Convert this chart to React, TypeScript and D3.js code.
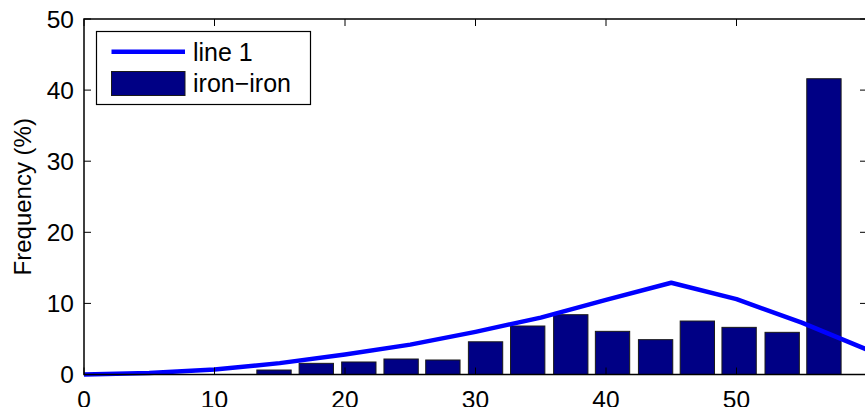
import React from 'react'
import * as d3 from 'd3'

// histogram bins (bin centre, percent)
const binCenters = [14.56, 17.8, 21.06, 24.3, 27.5, 30.77, 34.0, 37.3, 40.5, 43.8, 47.0, 50.2, 53.5, 56.7]
const binFreq = [0.63, 1.57, 1.76, 2.18, 2.04, 4.6, 6.82, 8.41, 6.07, 4.9, 7.52, 6.63, 5.93, 41.6]
const binWidth = 2.63

// "line 1" curve
const lineX = [0, 5, 10, 15, 20, 25, 30, 35, 40, 45, 50, 55, 60]
const lineY = [0, 0.2, 0.7, 1.6, 2.8, 4.2, 6.0, 8.0, 10.5, 12.9, 10.6, 7.3, 3.5]

const xTicks = [0, 10, 20, 30, 40, 50]
const yTicks = [0, 10, 20, 30, 40, 50]

const W = 865
const H = 407
const left = 84
const right = 867
const top = 19
const bottom = 374.5
const font = 'Liberation Sans, Arial, Helvetica, sans-serif'

const App = () => {
  const x = d3.scaleLinear().domain([0, 60]).range([left, right])
  const y = d3.scaleLinear().domain([0, 50]).range([bottom, top])

  const line = d3.line<number>()
    .x((d, i) => x(lineX[i]))
    .y(d => y(d))

  const tk = 7

  return (
    <svg width={W} height={H} style={{ position: 'absolute', left: 0, top: 0 }} fontFamily={font}>
      <rect width={W} height={H} fill="#fff" />

      {binCenters.map((c, i) => (
        <rect key={i}
          x={x(c - binWidth / 2)}
          y={y(binFreq[i])}
          width={x(c + binWidth / 2) - x(c - binWidth / 2)}
          height={y(0) - y(binFreq[i])}
          fill="#000085" stroke="#1a1a1a" strokeWidth={1} />
      ))}

      <path d={line(lineY) || ''} fill="none" stroke="#0000ff" strokeWidth={4.5} strokeLinejoin="round" />

      {/* frame */}
      <rect x={left} y={top} width={right - left} height={bottom - top} fill="none" stroke="#000" strokeWidth={1.5} />

      {xTicks.map(t => (
        <g key={'x' + t}>
          <line x1={x(t)} x2={x(t)} y1={bottom} y2={bottom - tk} stroke="#000" strokeWidth={1} />
          <line x1={x(t)} x2={x(t)} y1={top} y2={top + tk} stroke="#000" strokeWidth={1} />
          <text x={x(t)} y={408} textAnchor="middle" fontSize={24.5}>{t}</text>
        </g>
      ))}
      {yTicks.map(t => (
        <g key={'y' + t}>
          <line x1={left} x2={left + tk} y1={y(t)} y2={y(t)} stroke="#000" strokeWidth={1} />
          <line x1={right} x2={right - tk} y1={y(t)} y2={y(t)} stroke="#000" strokeWidth={1} />
          <text x={74} y={y(t)} dy="0.36em" textAnchor="end" fontSize={24.5}>{t}</text>
        </g>
      ))}

      <text transform={`translate(31, ${(top + bottom) / 2}) rotate(-90)`} textAnchor="middle" fontSize={24}>Frequency (%)</text>

      {/* legend */}
      <g>
        <rect x={96.5} y={31.5} width={214} height={73} fill="#fff" stroke="#000" strokeWidth={1.2} />
        <line x1={111.5} x2={185} y1={51.7} y2={51.7} stroke="#0000ff" strokeWidth={4.5} />
        <text x={193} y={61} fontSize={25}>line 1</text>
        <rect x={111.5} y={71.5} width={73.5} height={24} fill="#000085" stroke="#1a1a1a" strokeWidth={1} />
        <text x={193} y={92} fontSize={25}>iron−iron</text>
      </g>
    </svg>
  )
}

export default App
